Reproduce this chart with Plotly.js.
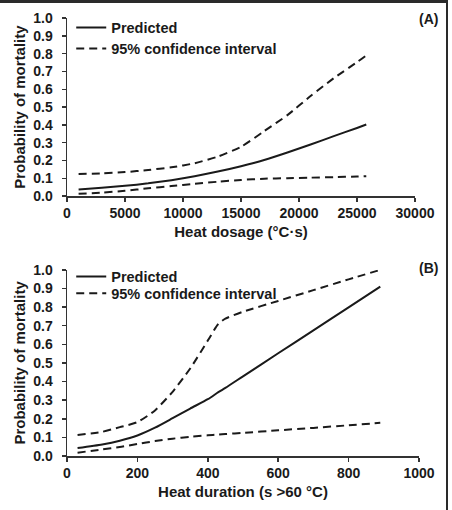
<!DOCTYPE html>
<html>
<head>
<meta charset="utf-8">
<script src="https://cdn.plot.ly/plotly-3.0.1.min.js"></script>
<style>
html,body{margin:0;padding:0;background:#fff;}
#wrap{position:relative;width:452px;height:510px;overflow:hidden;}
#chart{position:absolute;left:0;top:0;width:452px;height:510px;}
#frame{position:absolute;left:0;top:0;width:446px;height:507px;border-top:3px solid #2a2a2a;border-right:2px solid #2a2a2a;pointer-events:none;}
</style>
</head>
<body>
<div id="wrap"><div id="chart"></div><div id="frame"></div></div>
<script>
// Panel A: heat dosage (°C·s)
const dosageX = [1000, 3000, 5000, 7000, 9000, 11000, 13000, 15000, 17000, 19000, 21000, 23000, 25000, 25800];
const dosagePred = [0.037, 0.047, 0.058, 0.072, 0.090, 0.112, 0.138, 0.168, 0.203, 0.245, 0.290, 0.337, 0.383, 0.402];
const dosageUpper = [0.125, 0.128, 0.135, 0.147, 0.162, 0.185, 0.222, 0.277, 0.365, 0.455, 0.562, 0.662, 0.752, 0.790];
const dosageLower = [0.013, 0.020, 0.030, 0.044, 0.057, 0.069, 0.081, 0.091, 0.098, 0.101, 0.104, 0.107, 0.110, 0.112];

// Panel B: heat duration (s > 60 °C)
const durationX = [30, 100, 150, 200, 250, 300, 350, 400, 430, 450, 500, 600, 700, 800, 890];
const durationPred = [0.043, 0.062, 0.082, 0.110, 0.152, 0.203, 0.255, 0.305, 0.343, 0.366, 0.428, 0.552, 0.675, 0.798, 0.910];
const durationUpper = [0.113, 0.130, 0.155, 0.182, 0.245, 0.345, 0.470, 0.620, 0.710, 0.738, 0.775, 0.833, 0.891, 0.949, 1.000];
const durationLower = [0.018, 0.035, 0.048, 0.065, 0.080, 0.093, 0.103, 0.111, 0.115, 0.118, 0.124, 0.138, 0.151, 0.165, 0.178];

const yTickVals = [0, 0.1, 0.2, 0.3, 0.4, 0.5, 0.6, 0.7, 0.8, 0.9, 1.0];
const dosageTicks = [0, 5000, 10000, 15000, 20000, 25000, 30000];
const durationTicks = [0, 200, 400, 600, 800, 1000];

const legendNames = ["Predicted", "95% confidence interval"];
const yTitle = "Probability of mortality";
const xTitleA = "Heat dosage (°C·s)";
const xTitleB = "Heat duration (s >60 °C)";

const FONT = "Liberation Sans, Arial, Helvetica, sans-serif";
const INK = "#1a1a1a";
const solid = {color: INK, width: 2, shape: "spline", smoothing: 0.6};
const dashed = {color: INK, width: 2, dash: "8px,5px", shape: "spline", smoothing: 0.6};

const traces = [
  {x: dosageX, y: dosagePred, mode: "lines", line: solid, name: legendNames[0], xaxis: "x", yaxis: "y", legend: "legend"},
  {x: dosageX, y: dosageUpper, mode: "lines", line: dashed, name: legendNames[1], xaxis: "x", yaxis: "y", legend: "legend2", legendgroup: "ciA"},
  {x: dosageX, y: dosageLower, mode: "lines", line: dashed, name: legendNames[1], xaxis: "x", yaxis: "y", showlegend: false, legendgroup: "ciA"},
  {x: durationX, y: durationPred, mode: "lines", line: solid, name: legendNames[0], xaxis: "x2", yaxis: "y2", legend: "legend3"},
  {x: durationX, y: durationUpper, mode: "lines", line: dashed, name: legendNames[1], xaxis: "x2", yaxis: "y2", legend: "legend4", legendgroup: "ciB"},
  {x: durationX, y: durationLower, mode: "lines", line: dashed, name: legendNames[1], xaxis: "x2", yaxis: "y2", showlegend: false, legendgroup: "ciB"}
];

const tickFont = {family: FONT, size: 14, color: INK, weight: "bold"};
const titleFont = {family: FONT, size: 15, color: INK, weight: "bold"};
const legFont = {family: FONT, size: 14.5, color: INK, weight: "bold"};

function xAx(dom, ticks, title, anchor) {
  return {
    domain: dom, anchor: anchor, range: [ticks[0], ticks[ticks.length-1]],
    tickvals: ticks, ticktext: ticks.map(String),
    showline: true, linecolor: "#333", linewidth: 1.5, mirror: false,
    ticks: "outside", ticklen: 4, tickwidth: 1.5, tickcolor: "#333",
    showgrid: false, zeroline: false, tickfont: tickFont,
    title: {text: title, font: titleFont, standoff: 6}, automargin: false
  };
}
function yAx(dom, anchor) {
  return {
    domain: dom, anchor: anchor, range: [0, 1],
    tickvals: yTickVals, ticktext: yTickVals.map(v => v.toFixed(1)),
    showline: true, linecolor: "#333", linewidth: 1.5,
    ticks: "outside", ticklen: 4, tickwidth: 1.5, tickcolor: "#333",
    ticklabelstandoff: 6,
    showgrid: false, zeroline: false, tickfont: tickFont,
    title: {text: yTitle, font: titleFont, standoff: 4}, automargin: false
  };
}
function leg(x, y) {
  return {x: x, y: y, xanchor: "left", yanchor: "middle", bgcolor: "rgba(0,0,0,0)",
          borderwidth: 0, font: legFont, itemclick: false, itemdoubleclick: false};
}

const LX = 0.012;
const layout = {
  width: 452, height: 510,
  margin: {l: 67, r: 33, t: 16, b: 54},
  paper_bgcolor: "#fff", plot_bgcolor: "#fff",
  font: {family: FONT, color: INK},
  xaxis: xAx([0, 0.98864], dosageTicks, xTitleA, "y"),
  yaxis: yAx([0.5932, 1], "x"),
  xaxis2: xAx([0, 1], durationTicks, xTitleB, "y2"),
  yaxis2: yAx([0, 0.425], "x2"),
  legend: leg(LX, 0.978),
  legend2: leg(LX, 0.930),
  legend3: leg(LX, 0.4098),
  legend4: leg(LX, 0.3714),
  annotations: [
    {text: "(A)", xref: "paper", yref: "paper", x: 1.028, y: 0.998, xanchor: "center", yanchor: "middle", showarrow: false, font: {family: FONT, size: 14, color: INK, weight: "bold"}},
    {text: "(B)", xref: "paper", yref: "paper", x: 1.028, y: 0.4295, xanchor: "center", yanchor: "middle", showarrow: false, font: {family: FONT, size: 14, color: INK, weight: "bold"}}
  ],
  showlegend: true
};

Plotly.newPlot("chart", traces, layout, {staticPlot: true, displayModeBar: false});
</script>
</body>
</html>
